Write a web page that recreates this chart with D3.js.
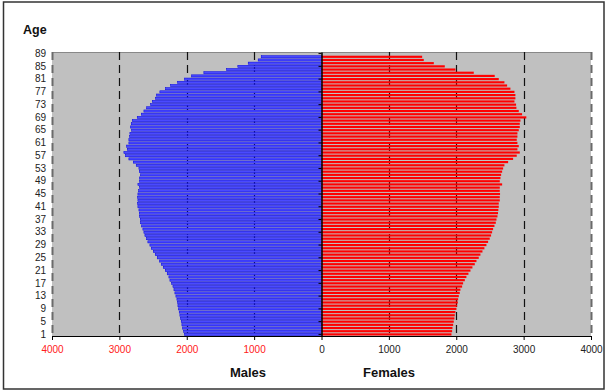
<!DOCTYPE html>
<html>
<head>
  <meta charset="UTF-8">
  <title>Age pyramid</title>
  <script src="https://d3js.org/d3.v7.min.js"></script>
  <style>
    * { margin: 0; padding: 0; box-sizing: border-box; }
    body { font-family: Arial, "Liberation Sans", sans-serif; background: #fff; }
  </style>
</head>
<body>
  <div id="chart"></div>
  <script>
    // ages 1..89, bottom to top
    const ages = d3.range(1, 90);
    const ageLabels = [1, 5, 9, 13, 17, 21, 25, 29, 33, 37, 41, 45, 49, 53, 57, 61, 65, 69, 73, 77, 81, 85, 89];
    const xTicks = [-4000, -3000, -2000, -1000, 0, 1000, 2000, 3000, 4000];

    const males = [
      2033, 2047, 2062, 2072, 2082, 2092, 2102, 2112, 2122, 2131,
      2136, 2146, 2161, 2176, 2190, 2205, 2225, 2250, 2265, 2290,
      2319, 2349, 2379, 2404, 2438, 2468, 2497, 2527, 2547, 2577,
      2596, 2621, 2636, 2651, 2671, 2686, 2690, 2700, 2705, 2710,
      2725, 2730, 2725, 2730, 2725, 2715, 2700, 2725, 2700, 2700,
      2686, 2705, 2710, 2750, 2794, 2859, 2908, 2933, 2883, 2893,
      2859, 2859, 2849, 2844, 2819, 2834, 2824, 2809, 2735, 2675,
      2636, 2596, 2537, 2512, 2463, 2448, 2399, 2315, 2240, 2136,
      2033, 1929, 1746, 1410, 1242, 1088, 940, 895, 0
    ];
    const females = [
      1929, 1939, 1944, 1954, 1963, 1973, 1978, 1988, 2003, 2013,
      2023, 2028, 2038, 2052, 2062, 2087, 2102, 2127, 2151, 2181,
      2211, 2240, 2275, 2300, 2334, 2359, 2389, 2418, 2448, 2473,
      2497, 2517, 2532, 2547, 2567, 2587, 2597, 2612, 2620, 2625,
      2631, 2631, 2646, 2646, 2650, 2646, 2646, 2681, 2646, 2656,
      2666, 2681, 2696, 2715, 2770, 2844, 2898, 2943, 2908, 2928,
      2908, 2898, 2908, 2908, 2928, 2943, 2943, 2953, 3040, 2977,
      2928, 2893, 2888, 2864, 2878, 2878, 2864, 2804, 2755, 2715,
      2631, 2571, 2260, 1988, 1830, 1667, 1518, 1494, 0
    ];

    const W = 610, H = 392;
    const plot = {left: 52, right: 591, top: 52, bottom: 336};

    const svg = d3.select("#chart")
                  .append("svg")
                  .attr("width", W)
                  .attr("height", H);

    // outer frame
    svg.append("rect")
       .attr("x", 3.5).attr("y", 2)
       .attr("width", 600.5).attr("height", 387)
       .attr("fill", "#fff")
       .attr("stroke", "#333")
       .attr("stroke-width", 1.5);

    const x = d3.scaleLinear()
                .domain([-4000, 4000])
                .range([plot.left, plot.right]);

    const y = d3.scaleBand()
                .domain(ages.slice().reverse())
                .range([plot.top, plot.bottom])
                .paddingInner(0.32)
                .paddingOuter(0.16);

    // plot background
    svg.append("rect")
       .attr("x", plot.left).attr("y", plot.top)
       .attr("width", plot.right - plot.left)
       .attr("height", plot.bottom - plot.top)
       .attr("fill", "#c0c0c0");

    svg.append("line")
       .attr("x1", plot.left).attr("x2", plot.right)
       .attr("y1", plot.top + 0.5).attr("y2", plot.top + 0.5)
       .attr("stroke", "#888");

    // dashed vertical gridlines
    svg.append("g")
       .selectAll("line")
       .data(xTicks.filter(d => d !== 0))
       .enter()
       .append("line")
       .attr("x1", d => Math.round(x(d)) + 0.5)
       .attr("x2", d => Math.round(x(d)) + 0.5)
       .attr("y1", plot.top)
       .attr("y2", plot.bottom)
       .attr("stroke", d => Math.abs(d) === 4000 ? "#6a6a6a" : "#111")
       .attr("stroke-width", d => Math.abs(d) === 4000 ? 2 : 1.2)
       .attr("stroke-dasharray", "8,5");

    const rows = ages.map((a, i) => ({age: a, m: males[i], f: females[i]}));

    svg.append("g")
       .selectAll("rect")
       .data(rows.filter(d => d.m > 0))
       .enter()
       .append("rect")
       .attr("x", d => x(-d.m))
       .attr("y", d => y(d.age))
       .attr("width", d => x(0) - x(-d.m))
       .attr("height", y.bandwidth())
       .attr("fill", "#4a4aff")
       .attr("stroke", "#0000e0")
       .attr("stroke-width", 0.5);

    svg.append("g")
       .selectAll("rect")
       .data(rows.filter(d => d.f > 0))
       .enter()
       .append("rect")
       .attr("x", x(0))
       .attr("y", d => y(d.age))
       .attr("width", d => x(d.f) - x(0))
       .attr("height", y.bandwidth())
       .attr("fill", "#ff0000");

    // age labels
    const yAxis = svg.append("g")
       .attr("transform", `translate(${plot.left},0)`)
       .call(d3.axisLeft(y).tickValues(ageLabels).tickSize(0).tickPadding(6));
    yAxis.select(".domain").remove();
    yAxis.selectAll("text")
         .style("font-family", "Arial, 'Liberation Sans', sans-serif")
         .style("font-size", "10px")
         .attr("fill", "#222");

    // center axis
    const cAxis = svg.append("g")
       .attr("transform", `translate(${x(0)},0)`)
       .call(d3.axisLeft(y).tickValues(ageLabels).tickSize(3).tickSizeOuter(0).tickFormat(""));
    cAxis.select(".domain").attr("stroke", "#000").attr("stroke-width", 1.5);
    cAxis.selectAll(".tick line").attr("stroke", "#000");

    // bottom axis
    const xAxis = svg.append("g")
       .attr("transform", `translate(0,${plot.bottom})`)
       .call(d3.axisBottom(x).tickValues(xTicks).tickSize(4).tickSizeOuter(0)
               .tickPadding(6).tickFormat(d => Math.abs(d)));
    xAxis.select(".domain").attr("stroke", "#000").attr("stroke-width", 1.2);
    xAxis.selectAll(".tick line").attr("stroke", "#000");
    xAxis.selectAll("text")
         .style("font-family", "Arial, 'Liberation Sans', sans-serif")
         .style("font-size", "10px")
         .attr("fill", d => d < 0 ? "#ff2020" : "#222");

    // titles
    svg.append("text")
       .attr("x", 23).attr("y", 34)
       .style("font-size", "12.5px")
       .style("font-weight", "bold")
       .attr("fill", "#111")
       .text("Age");

    svg.append("text")
       .attr("x", 248).attr("y", 377)
       .attr("text-anchor", "middle")
       .style("font-size", "13px")
       .style("font-weight", "bold")
       .attr("fill", "#111")
       .text("Males");

    svg.append("text")
       .attr("x", 389).attr("y", 377)
       .attr("text-anchor", "middle")
       .style("font-size", "13px")
       .style("font-weight", "bold")
       .attr("fill", "#111")
       .text("Females");
  </script>
</body>
</html>
